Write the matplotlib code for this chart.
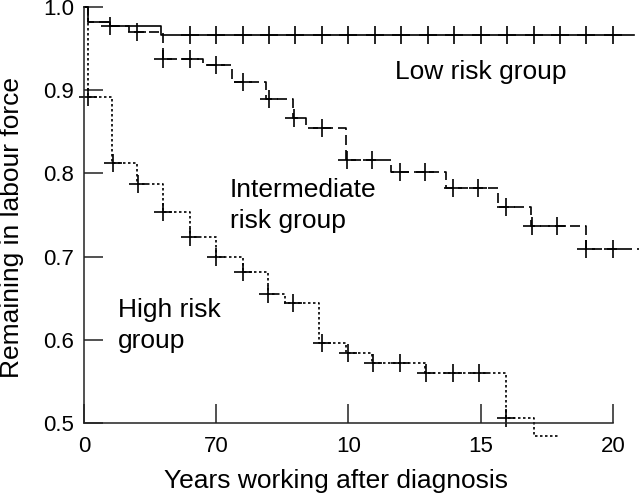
import matplotlib
matplotlib.use("Agg")
import matplotlib.pyplot as plt

plt.rcParams['font.family'] = ['Liberation Sans', 'DejaVu Sans']

# Kaplan-Meier style step data (years, proportion)
low_t = [0, 0.15, 1.0, 2.9, 20.8]
low_s = [1.0, 0.982, 0.977, 0.966, 0.966]
low_cens_t = [1.0, 4, 5, 6, 7, 8, 9, 10, 11, 12, 13, 14, 15, 16, 17, 18, 19, 20]
low_cens_s = [0.977] + [0.966] * 17

mid_t = [0, 0.15, 1.0, 1.7, 3.0, 4.5, 5.6, 6.9, 7.9, 8.4, 9.9, 11.6, 13.7,
         15.65, 16.9, 19.0, 21.0]
mid_s = [1.0, 0.982, 0.977, 0.970, 0.938, 0.930, 0.910, 0.889, 0.867, 0.855,
         0.816, 0.802, 0.782, 0.760, 0.737, 0.709, 0.709]
mid_cens_t = [2.0, 3.0, 4.0, 5.0, 6.0, 7.0, 7.95, 9.0, 9.95, 10.9, 11.95,
              12.9, 13.95, 14.9, 15.95, 16.95, 17.9, 19.0, 20.0]
mid_cens_s = [0.970, 0.938, 0.938, 0.930, 0.910, 0.889, 0.867, 0.855, 0.816,
              0.816, 0.802, 0.802, 0.782, 0.782, 0.760, 0.737, 0.737, 0.709,
              0.709]

high_t = [0, 0.15, 1.05, 2.0, 3.0, 4.0, 5.0, 6.0, 6.95, 7.6, 8.9, 9.9, 10.9,
          12.9, 15.95, 17.0, 18.0]
high_s = [1.0, 0.892, 0.813, 0.787, 0.754, 0.723, 0.700, 0.681, 0.655, 0.644,
          0.596, 0.584, 0.572, 0.560, 0.506, 0.484, 0.484]
high_cens_t = [0.15, 1.1, 2.05, 3.0, 4.0, 5.0, 6.0, 6.95, 7.9, 9.0, 10.0,
               10.95, 11.95, 12.95, 13.95, 14.95, 15.95]
high_cens_s = [0.892, 0.813, 0.787, 0.754, 0.723, 0.700, 0.681, 0.655, 0.644,
               0.596, 0.584, 0.572, 0.572, 0.560, 0.560, 0.560, 0.506]

xticks = [0, 5, 10, 15, 20]
xticklabels = ["0", "70", "10", "15", "20"]
yticks = [0.5, 0.6, 0.7, 0.8, 0.9, 1.0]

fig = plt.figure(figsize=(6.4, 4.94), dpi=100)
ax = fig.add_axes([0.131, 0.1437, 0.8266, 0.842])

lw = 1.2
ax.step(low_t, low_s, where='post', color='black', lw=lw, clip_on=False)
ax.step(mid_t, mid_s, where='post', color='black', lw=lw, clip_on=False,
        linestyle=(0, (6, 3)))
ax.step(high_t, high_s, where='post', color='black', lw=lw, clip_on=False,
        linestyle=(0, (1.5, 1.5)))

for ct, cs in [(low_cens_t, low_cens_s), (mid_cens_t, mid_cens_s),
               (high_cens_t, high_cens_s)]:
    ax.plot(ct, cs, linestyle='none', marker='+', markersize=13,
            markeredgewidth=1.2, color='black', clip_on=False)

ax.set_xlim(0, 20)
ax.set_ylim(0.5, 1.0)
ax.set_xticks(xticks)
ax.set_xticklabels(xticklabels)
ax.set_yticks(yticks)
ax.set_yticklabels([f"{v:.1f}" for v in yticks])

for s in ['top', 'right']:
    ax.spines[s].set_visible(False)
for s in ['left', 'bottom']:
    ax.spines[s].set_linewidth(1.1)
    ax.spines[s].set_color('#222222')

ax.tick_params(axis='y', direction='in', length=14, width=1.1, pad=7,
               labelsize=16, color='#222222')
ax.tick_params(axis='x', direction='in', length=14, width=1.1, pad=9,
               labelsize=16, color='#222222')

ax.set_xlabel("Years working after diagnosis", fontsize=19)
ax.set_ylabel("Remaining in labour force", fontsize=19)
ax.xaxis.set_label_coords(0.476, -0.11)
ax.yaxis.set_label_coords(-0.114, 0.47)

ax.text(11.76, 0.9135, "Low risk group", fontsize=19, ha='left', va='baseline')
ax.text(5.52, 0.772, "Intermediate", fontsize=19, ha='left', va='baseline')
ax.text(5.52, 0.734, "risk group", fontsize=19, ha='left', va='baseline')
ax.text(1.29, 0.627, "High risk", fontsize=19, ha='left', va='baseline')
ax.text(1.29, 0.590, "group", fontsize=19, ha='left', va='baseline')

fig.savefig("out.png", dpi=100)
